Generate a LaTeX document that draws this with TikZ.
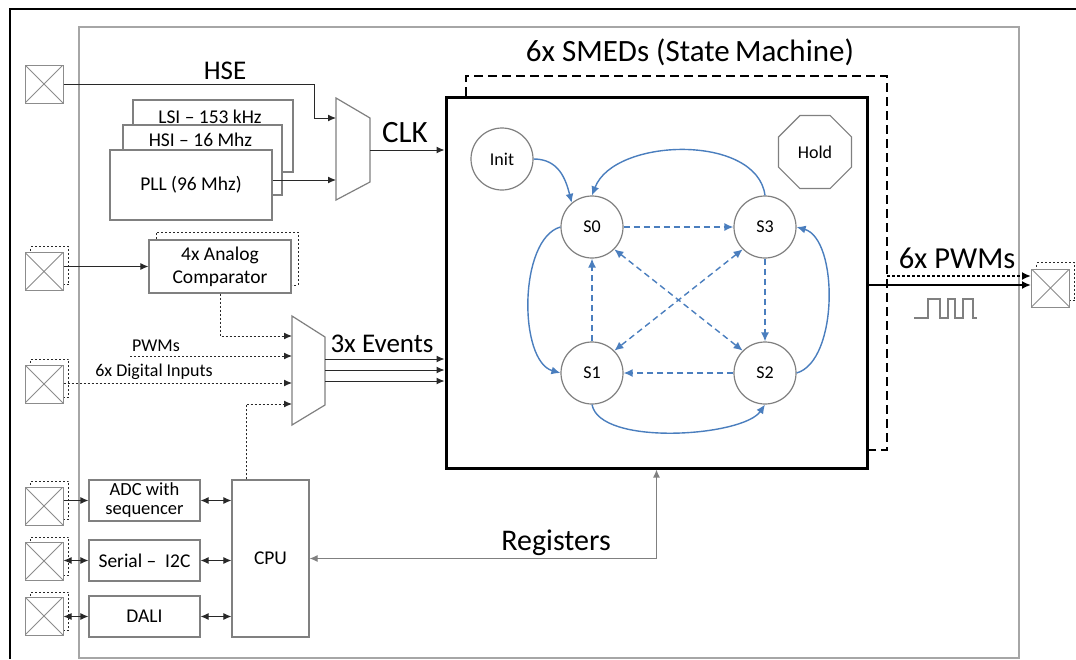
\documentclass[tikz,border=0pt]{standalone}
\usepackage{fontspec}
\setmainfont{Carlito}
\usetikzlibrary{arrows.meta,shapes.geometric}
\definecolor{chipgrey}{RGB}{166,166,166}
\definecolor{boxgrey}{RGB}{128,128,128}
\definecolor{padgrey}{RGB}{140,140,140}
\definecolor{smblue}{RGB}{74,126,190}
\definecolor{sig}{RGB}{40,40,40}
\begin{document}
\begin{tikzpicture}[x=1pt,y=-1pt,
  smalltxt/.style={font=\fontsize{18}{21}\selectfont},
  boxtxt/.style={font=\fontsize{19.5}{23}\selectfont},
  bigtxt/.style={font=\fontsize{30}{34}\selectfont},
  blk/.style={draw=boxgrey,line width=1.2pt,fill=white,inner sep=0pt,align=center,boxtxt},
  pad/.style={draw=padgrey,line width=1pt,fill=white,minimum size=38pt,inner sep=0pt,
    path picture={\draw[padgrey,line width=0.8pt] (path picture bounding box.south west) -- (path picture bounding box.north east)
      (path picture bounding box.north west) -- (path picture bounding box.south east);}},
  padshadow/.style={draw=sig,line width=0.8pt,dash pattern=on 2pt off 2pt,minimum size=38pt,inner sep=0pt},
  tip/.style={-{Latex[length=8pt,width=7pt]}},
  both/.style={{Latex[length=8pt,width=7pt]}-{Latex[length=8pt,width=7pt]}},
  sigline/.style={draw=sig,line width=1pt},
  dotsig/.style={draw=sig,line width=1pt,dash pattern=on 2pt off 2pt},
  state/.style={circle,draw=boxgrey,line width=1.2pt,minimum size=62pt,inner sep=0pt,smalltxt},
  smarc/.style={draw=smblue,line width=1.4pt,-{Latex[length=9pt,width=8pt]}},
  smdash/.style={smarc,dash pattern=on 6pt off 4pt},
  smdash2/.style={draw=smblue,line width=1.4pt,dash pattern=on 6pt off 4pt,
     {Latex[length=9pt,width=8pt]}-{Latex[length=9pt,width=8pt]}}
]
\useasboundingbox (0,0) rectangle (1076,659);
\fill[white] (0,0) rectangle (1076,659);
% frame
\draw[black,line width=2.5pt] (1076,9) -- (10,9) -- (10,659);
% chip outline
\draw[chipgrey,line width=2pt] (79,27) rectangle (1019,658);

% ---- clock sources
\node[blk,minimum width=160pt,minimum height=72pt,
  label={[boxtxt,anchor=center,yshift=-17pt,xshift=-3pt]north:LSI – 153 kHz}] (lsi) at (213,136) {};
\node[blk,minimum width=159pt,minimum height=70pt,
  label={[boxtxt,anchor=center,yshift=-15pt,xshift=-2pt]north:HSI – 16 Mhz}] (hsi) at (202.5,160) {};
\node[blk,minimum width=162pt,minimum height=70pt] (pll) at (191,185) {PLL (96 Mhz)};

% clock mux
\draw[draw=boxgrey,line width=1.2pt] (336,98) -- (370,118) -- (370,182) -- (336,200) -- cycle;
\coordinate (clkin1) at (336,118);
\coordinate (clkin2) at (336,180);
\coordinate (clkout) at (370,150);

% HSE pad
\node[pad] (hsepad) at (44,84) {};
\draw[sigline,tip] (hsepad.east) -| ([xshift=-22pt]clkin1) -- (clkin1);
\node[font=\fontsize{27}{31}\selectfont] (hselbl) at (225,71) {HSE};
\draw[sigline,tip] (pll.east |- clkin2) -- (clkin2);

% ---- SMED block
\node[draw=black,line width=3pt,minimum width=421pt,minimum height=371pt,inner sep=0pt] (smed) at (656.5,282.5) {};
\draw[black,line width=2.5pt,dash pattern=on 9pt off 5pt] (466,96) -- (466,76) -- (887,76) -- (887,450) -- (868,450);
\node[font=\fontsize{31}{35}\selectfont] (smedlbl) at (690,52) {6x SMEDs (State\,Machine)};

\draw[sigline,tip] (clkout) -- (clkout -| smed.west);
\node[font=\fontsize{31}{35}\selectfont] (clklbl) at (405,133) {CLK};

% ---- comparator
\node[padshadow] (cmpsh) at (49.5,265.5) {};
\node[pad] (cmppad) at (44,271.5) {};
\draw[dotsig] (156,239) -- (156,232) -- (298,232) -- (298,285) -- (292,285);
\node[blk,minimum width=142pt,minimum height=53pt] (comp) at (220,266.5) {4x Analog\\Comparator};
\draw[sigline,tip] (cmppad.east |- comp.west) -- (comp.west);

% events mux
\draw[draw=boxgrey,line width=1.2pt] (292,316) -- (325,337) -- (325,405) -- (292,425) -- cycle;
\coordinate (ev1) at (292,336);
\coordinate (ev2) at (292,356);
\coordinate (ev3) at (292,383);
\coordinate (ev4) at (292,404);
\coordinate (evo1) at (325,359);
\coordinate (evo2) at (325,370);
\coordinate (evo3) at (325,381);
\draw[dotsig,tip] (comp.south) |- (ev1);
\coordinate (pwmsrc) at (130,356);
\draw[dotsig,tip] (pwmsrc) -- (ev2);
\node[smalltxt] (pwmslbl) at (156,346) {PWMs};

\node[padshadow] (digsh) at (49.5,378) {};
\node[pad] (digpad) at (44,384) {};
\draw[dotsig,tip] (digpad.east |- ev3) -- (ev3);
\node[smalltxt] (diglbl) at (154,372) {6x Digital Inputs};

\draw[sigline,tip] (evo1) -- (evo1 -| smed.west);
\draw[sigline,tip] (evo2) -- (evo2 -| smed.west);
\draw[sigline,tip] (evo3) -- (evo3 -| smed.west);
\node[font=\fontsize{27}{31}\selectfont] (evlbl) at (382,344) {3x Events};

% ---- bottom blocks
\node[blk,minimum width=111pt,minimum height=41pt,font=\fontsize{18.5}{19}\selectfont] (adc) at (144.5,500.5) {ADC with\\sequencer};
\node[blk,minimum width=111pt,minimum height=41pt] (ser) at (144.5,560.5) {Serial –\ \ I2C};
\node[blk,minimum width=111pt,minimum height=41pt] (dali) at (144.5,616.5) {DALI};
\node[blk,minimum width=77pt,minimum height=157pt] (cpu) at (270.5,558.5) {CPU};

\node[padshadow] (adcsh) at (49.5,500) {};
\node[pad] (adcpad) at (44,506) {};
\node[padshadow] (sersh) at (49.5,556) {};
\node[pad] (serpad) at (44,561) {};
\node[padshadow] (dalish) at (49.5,611) {};
\node[pad] (dalipad) at (44,616) {};

\draw[sigline,tip] (adcpad.east |- adc.west) -- (adc.west);
\draw[sigline,both] (serpad.east |- ser.west) -- (ser.west);
\draw[sigline,both] (dalipad.east |- dali.west) -- (dali.west);
\draw[sigline,both] (adc.east) -- (adc.east -| cpu.west);
\draw[sigline,both] (ser.east) -- (ser.east -| cpu.west);
\draw[sigline,both] (dali.east) -- (dali.east -| cpu.west);

\draw[dotsig,tip] ([xshift=-24.5pt]cpu.north) |- (ev4);

\draw[draw=boxgrey,line width=1.2pt,both] (cpu.east) -| (smed.south);
\node[bigtxt] (reglbl) at (556,543) {Registers};

% ---- PWM output
\node[padshadow] (outsh) at (1055.5,281.5) {};
\node[pad] (outpad) at (1050.5,288) {};
\coordinate (pwmout) at (outpad.west |- 0,285);
\coordinate (pwmdot) at (outpad.west |- 0,276);
\draw[black,line width=2.5pt,-{Latex[length=9pt,width=8pt]}] (smed.east |- pwmout) -- (pwmout);
\draw[black,line width=2.5pt,dash pattern=on 2.5pt off 2.5pt,-{Latex[length=9pt,width=8pt]}] (887,276) -- (pwmdot);
\node[font=\fontsize{30.5}{34}\selectfont] (pwmlbl) at (957,258) {6x PWMs};
\draw[boxgrey,line width=1.2pt] (914,318) -- (928,318) -- (928,299) -- (940,299) -- (940,318) -- (948,318)
  -- (948,299) -- (955,299) -- (955,318) -- (963,318) -- (963,299) -- (973,299) -- (973,318) -- (977,318);

% ---- state machine
\node[state] (init) at (502,159) {Init};
\node[regular polygon,regular polygon sides=8,draw=boxgrey,line width=1.2pt,minimum size=79pt,inner sep=0pt,smalltxt] (hold) at (815,152) {Hold};
\node[state] (s0) at (592,227) {S0};
\node[state] (s3) at (765,227) {S3};
\node[state] (s1) at (592,373) {S1};
\node[state] (s2) at (765,373) {S2};

\draw[smarc] (init.east) .. controls +(25,0) and +(-6,-24) .. (s0.130);
\draw[smarc] (s3.north) .. controls +(-8,-62) and +(22,-58) .. (s0.north);
\draw[smarc] (s0.west) .. controls +(-42,12) and +(-42,-12) .. (s1.west);
\draw[smarc] (s2.east) .. controls +(42,-12) and +(42,12) .. (s3.east);
\draw[smarc] (s1.south) .. controls +(8,42) and +(-22,32) .. (s2.south);

\draw[smdash] (s0.east) -- (s3.west);
\draw[smdash] (s1.north) -- (s0.south);
\draw[smdash] (s3.south) -- (s2.north);
\draw[smdash] (s2.west) -- (s1.east);
\draw[smdash2] (s0.-45) -- (s2.135);
\draw[smdash2] (s3.-135) -- (s1.45);
\end{tikzpicture}
\end{document}
